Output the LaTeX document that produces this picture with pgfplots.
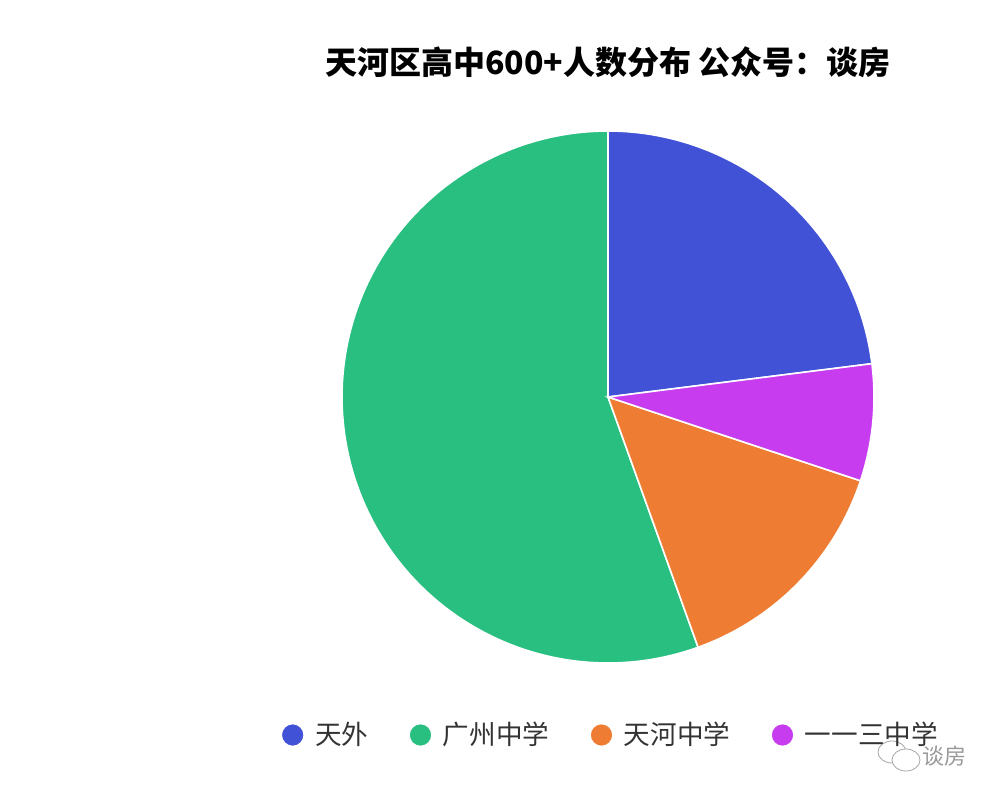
\documentclass[border=0pt]{standalone}
\usepackage{pgfplots}
\pgfplotsset{compat=1.18}
\usepackage{fontspec}
\setmainfont{Noto Sans CJK SC}

\definecolor{cTW}{HTML}{4152D6}
\definecolor{cGZ}{HTML}{29BF81}
\definecolor{cTH}{HTML}{EE7D33}
\definecolor{cYY}{HTML}{C83CF0}
\definecolor{legtext}{HTML}{333333}

% shares in percent
\def\vTW{23.0}
\def\vYY{7.1}
\def\vTH{14.4}
\def\vGZ{55.5}
% pie centre and radius (pixel units, y from bottom)
\def\cx{608}
\def\cy{403}
\def\rr{266}

\pgfmathsetmacro\aA{90}
\pgfmathsetmacro\aB{\aA-3.6*\vTW}
\pgfmathsetmacro\aC{\aB-3.6*\vYY}
\pgfmathsetmacro\aD{\aC-3.6*\vTH}
\pgfmathsetmacro\aE{\aD-3.6*\vGZ}

\begin{document}
\begin{tikzpicture}
\begin{axis}[
  scale only axis,
  width=500pt, height=400pt,
  xmin=0, xmax=1000, ymin=0, ymax=800,
  hide axis,
  clip=false,
  legend image code/.code={\fill[#1] (5.75pt,0pt) circle (5.75pt);},
  legend style={at={(axis cs:274,65)}, anchor=west, draw=none, fill=none,
    font=\fontsize{13.3}{15}\selectfont\color{legtext},
    legend columns=4,
    /tikz/every odd column/.append style={column sep=3pt},
    /tikz/every even column/.append style={column sep=18pt}},
]
\path (axis cs:0,0) rectangle (axis cs:1000,800);

\addplot[fill=cTW, draw=white, line width=0.8pt, domain=\aB:\aA, samples=80]
  ({\cx+\rr*cos(x)},{\cy+\rr*sin(x)}) -- (axis cs:\cx,\cy) -- cycle;
\addlegendentry{天外}
\addplot[fill=cGZ, draw=white, line width=0.8pt, domain=\aE:\aD, samples=160]
  ({\cx+\rr*cos(x)},{\cy+\rr*sin(x)}) -- (axis cs:\cx,\cy) -- cycle;
\addlegendentry{广州中学}
\addplot[fill=cTH, draw=white, line width=0.8pt, domain=\aD:\aC, samples=60]
  ({\cx+\rr*cos(x)},{\cy+\rr*sin(x)}) -- (axis cs:\cx,\cy) -- cycle;
\addlegendentry{天河中学}
\addplot[fill=cYY, draw=white, line width=0.8pt, domain=\aC:\aB, samples=40]
  ({\cx+\rr*cos(x)},{\cy+\rr*sin(x)}) -- (axis cs:\cx,\cy) -- cycle;
\addlegendentry{一一三中学}

\node[font=\fontsize{16}{18}\selectfont\bfseries] at (axis cs:608,738)
  {天河区高中600+人数分布 公众号：谈房};

% watermark
\node[font=\fontsize{11}{13}\selectfont, text=gray!80] at (axis cs:944,44) {谈房};
\draw[gray!70, line width=0.4pt] (axis cs:892,48) ellipse (7pt and 5.5pt);
\draw[gray!70, line width=0.4pt, fill=white] (axis cs:906,40) ellipse (7pt and 5.5pt);
\end{axis}
\end{tikzpicture}
\end{document}
